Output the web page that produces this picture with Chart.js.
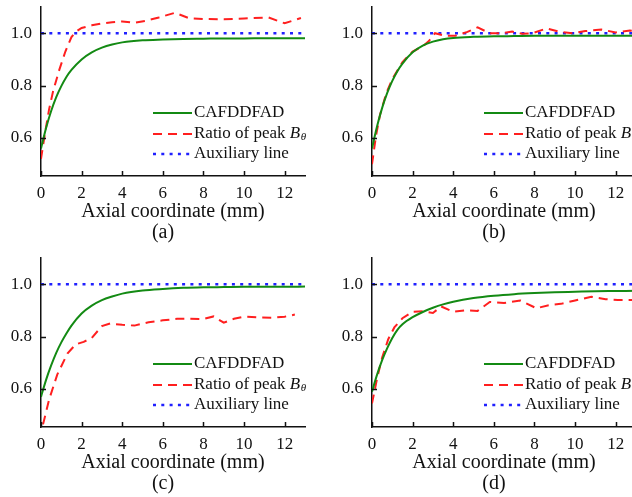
<!DOCTYPE html>
<html><head><meta charset="utf-8">
<script src="https://cdn.jsdelivr.net/npm/chart.js@4"></script>
<style>
html,body{margin:0;padding:0;width:632px;height:497px;overflow:hidden;background:#fff;}
.p{position:absolute;width:320px;height:250px;}
canvas{display:block;}
</style></head><body>
<div class="p" style="left:0;top:0"><canvas id="ca" width="320" height="250"></canvas></div>
<div class="p" style="left:331px;top:0"><canvas id="cb" width="320" height="250"></canvas></div>
<div class="p" style="left:0;top:251px"><canvas id="cc" width="320" height="250"></canvas></div>
<div class="p" style="left:331px;top:251px"><canvas id="cd" width="320" height="250"></canvas></div>
<script>
// ---- data ----
const xTicks = [0, 2, 4, 6, 8, 10, 12];
const yTicks = [0.6, 0.8, 1.0];
const seriesLabels = ['CAFDDFAD', 'Ratio of peak ', 'Auxiliary line'];
const panelNames = ['(a)', '(b)', '(c)', '(d)'];

const greenX = [0, 0.25, 0.5, 0.75, 1, 1.25, 1.5, 2, 2.5, 3, 3.5, 4, 5, 6, 7, 8, 9, 10, 11, 12, 13];
const greenA = [0.56, 0.638, 0.703, 0.756, 0.798, 0.833, 0.86, 0.90, 0.927, 0.945, 0.957, 0.965, 0.973, 0.976, 0.978, 0.979, 0.98, 0.98, 0.981, 0.981, 0.981];
const greenB = [0.56, 0.645, 0.715, 0.772, 0.818, 0.855, 0.884, 0.927, 0.953, 0.968, 0.977, 0.982, 0.986, 0.988, 0.989, 0.99, 0.99, 0.99, 0.99, 0.99, 0.99];
const greenC = [0.57, 0.635, 0.69, 0.738, 0.778, 0.812, 0.842, 0.888, 0.918, 0.939, 0.953, 0.964, 0.976, 0.982, 0.986, 0.988, 0.989, 0.99, 0.99, 0.99, 0.991];
const greenD = [0.59, 0.655, 0.71, 0.756, 0.795, 0.826, 0.847, 0.874, 0.894, 0.91, 0.923, 0.933, 0.947, 0.956, 0.962, 0.966, 0.969, 0.971, 0.973, 0.974, 0.975];

const redAX = [0, 0.2, 0.4, 0.6, 0.9, 1.2, 1.5, 1.7, 2.0, 2.5, 3.0, 3.5, 4.0, 4.6, 5.2, 5.8, 6.6, 7.3, 8.0, 9.0, 10.0, 11.2, 12.0, 12.8];
const redAY = [0.52, 0.62, 0.71, 0.78, 0.86, 0.93, 0.985, 1.005, 1.02, 1.03, 1.037, 1.042, 1.045, 1.04, 1.048, 1.06, 1.078, 1.057, 1.054, 1.053, 1.056, 1.06, 1.038, 1.058];
const redBX = [0, 0.2, 0.4, 0.7, 1.0, 1.5, 2.0, 2.5, 2.8, 3.1, 3.6, 4.1, 4.7, 5.2, 5.8, 6.4, 6.9, 7.4, 7.9, 8.6, 9.2, 9.9, 10.5, 11.3, 12.0, 12.7, 13.0];
const redBY = [0.50, 0.61, 0.69, 0.77, 0.825, 0.89, 0.93, 0.95, 0.97, 1.0, 0.99, 0.99, 1.005, 1.022, 1.0, 1.0, 1.006, 0.998, 1.0, 1.018, 1.006, 1.0, 1.008, 1.014, 1.003, 1.01, 1.008];
const redCX = [0.1, 0.4, 0.8, 1.3, 1.7, 2.1, 2.5, 3.0, 3.4, 4.0, 4.6, 5.3, 6.0, 6.7, 7.3, 8.0, 8.5, 9.0, 9.5, 10.0, 10.7, 11.4, 12.0, 12.5];
const redCY = [0.465, 0.56, 0.655, 0.735, 0.77, 0.78, 0.795, 0.84, 0.85, 0.845, 0.842, 0.855, 0.862, 0.868, 0.868, 0.867, 0.877, 0.853, 0.868, 0.876, 0.873, 0.872, 0.876, 0.884];
const redDX = [0, 0.25, 0.5, 0.8, 1.1, 1.5, 2.0, 2.5, 3.0, 3.4, 4.0, 4.6, 5.2, 5.8, 6.5, 7.3, 8.1, 8.7, 9.3, 10.0, 10.8, 11.5, 12.1, 12.7, 13.0];
const redDY = [0.545, 0.64, 0.72, 0.79, 0.835, 0.87, 0.895, 0.897, 0.89, 0.915, 0.895, 0.90, 0.898, 0.932, 0.928, 0.938, 0.908, 0.92, 0.925, 0.938, 0.952, 0.943, 0.94, 0.94, 0.94];

const auxX = [0, 13];
const auxY = [1, 1];

// ---- styles ----
const FONT = "'Liberation Serif', 'Times New Roman', serif";
const GREEN = '#138a13';
const RED = '#ff1f1f';
const BLUE = '#2020ff';
const INK = '#111';

function zip(xs, ys) { return xs.map((x, i) => ({x: x, y: ys[i]})); }

const decor = {
  id: 'decor',
  afterDraw(chart, args, opts) {
    const {ctx, chartArea: ca, scales} = chart;
    ctx.save();
    // inward tick marks
    ctx.strokeStyle = INK; ctx.lineWidth = 1.5;
    ctx.beginPath();
    xTicks.forEach(v => { const px = Math.round(scales.x.getPixelForValue(v)) + 0.5; ctx.moveTo(px, ca.bottom); ctx.lineTo(px, ca.bottom - 5); });
    yTicks.forEach(v => { const py = Math.round(scales.y.getPixelForValue(v)) + 0.5; ctx.moveTo(ca.left, py); ctx.lineTo(ca.left + 5, py); });
    ctx.stroke();
    // legend
    const base = ca.left + 112;
    const rows = [ca.top + 106, ca.top + 127, ca.top + 147];
    chart.data.datasets.forEach((ds, i) => {
      const y = rows[i];
      ctx.strokeStyle = ds.borderColor; ctx.lineWidth = ds.borderWidth;
      ctx.setLineDash(ds.borderDash || []);
      ctx.beginPath(); ctx.moveTo(base, y); ctx.lineTo(base + 39, y); ctx.stroke();
      ctx.setLineDash([]);
      ctx.fillStyle = INK; ctx.textBaseline = 'middle'; ctx.textAlign = 'left';
      ctx.font = '17px ' + FONT;
      ctx.fillText(ds.label, base + 41, y);
      if (i === 1) {
        const w = ctx.measureText(ds.label).width;
        ctx.font = 'italic 17px ' + FONT;
        ctx.fillText('B', base + 41 + w, y);
        const wb = ctx.measureText('B').width;
        ctx.font = 'italic 11px ' + FONT;
        ctx.fillText('\u03B8', base + 41 + w + wb + 0.5, y + 3);
      }
    });
    // panel label
    ctx.font = '20px ' + FONT; ctx.fillStyle = INK; ctx.textAlign = 'center'; ctx.textBaseline = 'middle';
    ctx.fillText(opts.name, ca.left + 122, 233);
    ctx.restore();
  }
};

function makeChart(id, gy, rx, ry, name) {
  return new Chart(document.getElementById(id), {
    type: 'line',
    data: {datasets: [
      {label: seriesLabels[0], data: zip(greenX, gy), borderColor: GREEN, borderWidth: 2, pointRadius: 0, cubicInterpolationMode: 'monotone', fill: false},
      {label: seriesLabels[1], data: zip(rx, ry), borderColor: RED, borderWidth: 2, borderDash: [9, 6], pointRadius: 0, tension: 0, fill: false},
      {label: seriesLabels[2], data: zip(auxX, auxY), borderColor: BLUE, borderWidth: 2.5, borderDash: [3, 5.3], pointRadius: 0, fill: false}
    ]},
    options: {
      responsive: false, animation: false, devicePixelRatio: 1,
      layout: {padding: {top: 7, right: 15, left: 0, bottom: 0}},
      plugins: {legend: {display: false}, tooltip: {enabled: false}, decor: {name: name}},
      scales: {
        x: {
          type: 'linear', min: 0, max: 13,
          grid: {display: false, drawTicks: false},
          border: {display: true, color: INK, width: 1.5},
          ticks: {padding: 7, color: INK, font: {family: FONT, size: 17}, callback: v => String(v)},
          afterBuildTicks: s => { s.ticks = xTicks.map(v => ({value: v})); },
          afterFit: s => { s.height = 74; s.paddingLeft = 0; s.paddingRight = 0; },
          title: {display: true, text: 'Axial coordinate (mm)', color: INK, font: {family: FONT, size: 20}, padding: {top: 0, bottom: 26}}
        },
        y: {
          type: 'linear', min: 0.455, max: 1.1,
          grid: {display: false, drawTicks: false},
          border: {display: true, color: INK, width: 1.5},
          ticks: {padding: 9, color: INK, font: {family: FONT, size: 17}, callback: v => Number(v).toFixed(1)},
          afterBuildTicks: s => { s.ticks = yTicks.map(v => ({value: v})); },
          afterFit: s => { s.width = 41; s.paddingTop = 0; s.paddingBottom = 0; }
        }
      }
    },
    plugins: [decor]
  });
}

makeChart('ca', greenA, redAX, redAY, panelNames[0]);
makeChart('cb', greenB, redBX, redBY, panelNames[1]);
makeChart('cc', greenC, redCX, redCY, panelNames[2]);
makeChart('cd', greenD, redDX, redDY, panelNames[3]);
</script>
</body></html>
